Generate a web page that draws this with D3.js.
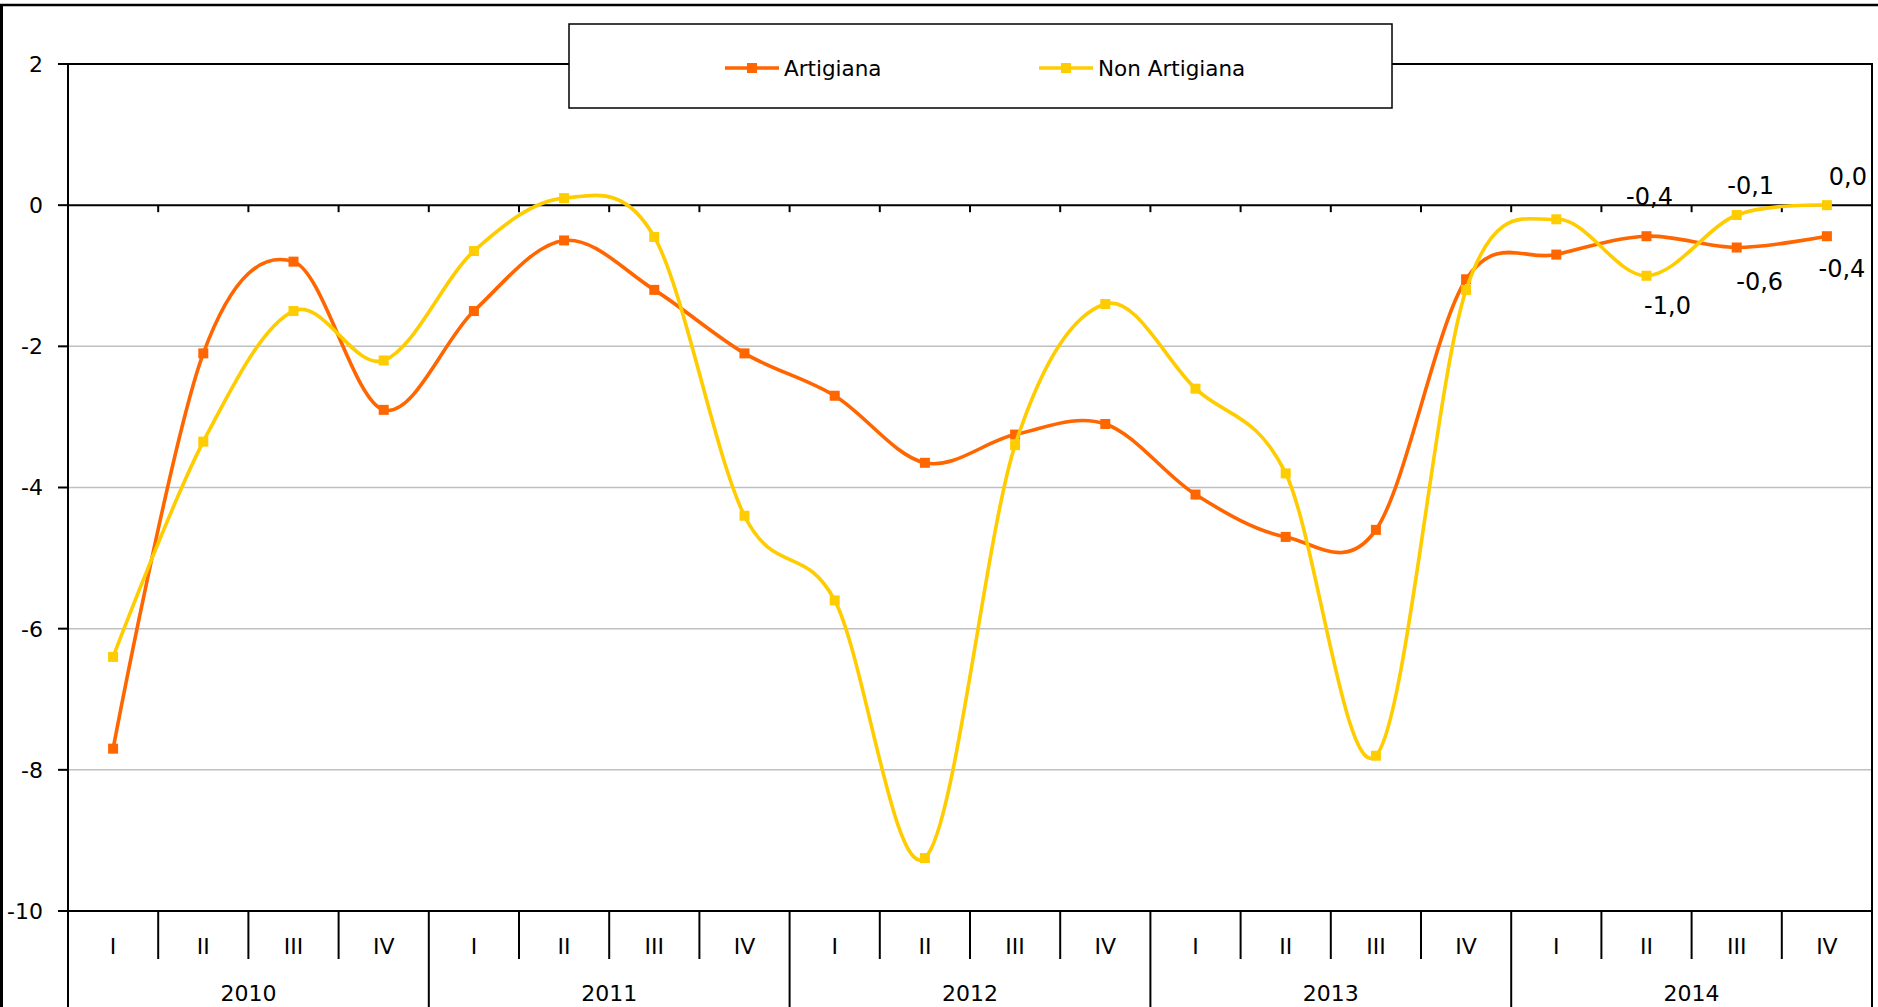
<!DOCTYPE html>
<html>
<head>
<meta charset="utf-8">
<script src="https://cdn.jsdelivr.net/npm/d3@7"></script>
<style>
  body { margin: 0; background: #fff; }
  svg { display: block; }
  text { font-family: "DejaVu Sans", sans-serif; fill: #000; }
</style>
</head>
<body>
<div id="chart"></div>
<script>
// data
var years = ["2010", "2011", "2012", "2013", "2014"];
var quarters = ["I", "II", "III", "IV"];
var seriesNames = ["Artigiana", "Non Artigiana"];
var artigiana = [-7.7, -2.1, -0.8, -2.9, -1.5, -0.5, -1.2, -2.1, -2.7, -3.65, -3.25, -3.1,
                 -4.1, -4.7, -4.6, -1.05, -0.7, -0.44, -0.6, -0.44];
var nonArtigiana = [-6.4, -3.35, -1.5, -2.2, -0.65, 0.1, -0.45, -4.4, -5.6, -9.25, -3.4, -1.4,
                    -2.6, -3.8, -7.8, -1.2, -0.2, -1.0, -0.14, 0.0];
var yTicks = [2, 0, -2, -4, -6, -8, -10];
var labelledIdx = [17, 18, 19];   // 2014 II, III, IV carry value labels

var colors = ["#FF6600", "#FFCC00"];
var W = 1878, H = 1007;
var pLeft = 68, pRight = 1872, pTop = 64, pBottom = 911;

// label nudges [dx, dy] for each labelled point, per series
var labelNudge = [
    [[3, -40], [23, 34], [15, 32]],
    [[21, 30], [14, -30], [21, -29]]
];

var locale = d3.formatLocale({decimal: ",", thousands: ".", grouping: [3], currency: ["", "€"], minus: "-"});
var fmt1 = locale.format(".1f");
var fmt0 = locale.format("d");

var categories = [];
years.forEach(function(yr) {
    quarters.forEach(function(q) { categories.push({year: yr, q: q}); });
});

var svg = d3.select("#chart").append("svg")
    .attr("width", W)
    .attr("height", H);

var x = d3.scaleBand().domain(d3.range(categories.length)).range([pLeft, pRight]).padding(0);
var y = d3.scaleLinear().domain([-10, 2]).range([pBottom, pTop]);
var cx = function(i) { return x(i) + x.bandwidth() / 2; };
var bx = function(i) { return pLeft + i * x.bandwidth(); };

// outer frame (top and left edges visible)
svg.append("line").attr("x1", 0).attr("x2", W).attr("y1", 5).attr("y2", 5)
    .attr("stroke", "#000").attr("stroke-width", 2.5);
svg.append("line").attr("x1", 1.5).attr("x2", 1.5).attr("y1", 5).attr("y2", H)
    .attr("stroke", "#000").attr("stroke-width", 3);

// gridlines
svg.selectAll(".grid")
    .data(yTicks.filter(function(v) { return v !== 2 && v !== 0 && v !== -10; }))
    .enter().append("line")
    .attr("x1", pLeft).attr("x2", pRight)
    .attr("y1", function(d) { return y(d); }).attr("y2", function(d) { return y(d); })
    .attr("stroke", "#C0C0C0").attr("stroke-width", 1.5);

// plot border
svg.append("rect")
    .attr("x", pLeft).attr("y", pTop)
    .attr("width", pRight - pLeft).attr("height", pBottom - pTop)
    .attr("fill", "none").attr("stroke", "#000").attr("stroke-width", 2);

// y axis ticks + labels
svg.selectAll(".ytick")
    .data(yTicks)
    .enter().append("line")
    .attr("x1", pLeft - 10).attr("x2", pLeft)
    .attr("y1", function(d) { return y(d); }).attr("y2", function(d) { return y(d); })
    .attr("stroke", "#000").attr("stroke-width", 2);
svg.selectAll(".ylabel")
    .data(yTicks)
    .enter().append("text")
    .attr("x", 43)
    .attr("y", function(d) { return y(d); })
    .attr("dy", "0.36em")
    .attr("text-anchor", "end")
    .attr("font-size", 22)
    .text(function(d) { return fmt0(d); });

// zero line with downward ticks
svg.append("line").attr("x1", pLeft).attr("x2", pRight).attr("y1", y(0)).attr("y2", y(0))
    .attr("stroke", "#000").attr("stroke-width", 2);
svg.selectAll(".xtick")
    .data(d3.range(1, categories.length + 1))
    .enter().append("line")
    .attr("x1", bx).attr("x2", bx)
    .attr("y1", y(0)).attr("y2", y(0) + 7)
    .attr("stroke", "#000").attr("stroke-width", 2);

// category axis: quarter row and year row
svg.selectAll(".qsep")
    .data(d3.range(0, categories.length + 1))
    .enter().append("line")
    .attr("x1", bx).attr("x2", bx)
    .attr("y1", pBottom)
    .attr("y2", function(i) { return i % 4 === 0 ? H : pBottom + 48; })
    .attr("stroke", "#000").attr("stroke-width", 2);
svg.selectAll(".qlabel")
    .data(categories)
    .enter().append("text")
    .attr("x", function(d, i) { return cx(i); })
    .attr("y", pBottom + 35)
    .attr("dy", "0.36em")
    .attr("text-anchor", "middle")
    .attr("font-size", 22)
    .text(function(d) { return d.q; });
svg.selectAll(".ylab")
    .data(years)
    .enter().append("text")
    .attr("x", function(d, i) { return (bx(i * 4) + bx(i * 4 + 4)) / 2; })
    .attr("y", pBottom + 82)
    .attr("dy", "0.36em")
    .attr("text-anchor", "middle")
    .attr("font-size", 22)
    .text(function(d) { return d; });

// series
var series = [artigiana, nonArtigiana];
var line = d3.line()
    .x(function(d, i) { return cx(i); })
    .y(function(d) { return y(d); })
    .curve(d3.curveCardinal.tension(0));

series.forEach(function(vals, s) {
    var g = svg.append("g");
    g.append("path")
        .datum(vals)
        .attr("d", line)
        .attr("fill", "none")
        .attr("stroke", colors[s])
        .attr("stroke-width", 3.6);
    g.selectAll("rect")
        .data(vals)
        .enter().append("rect")
        .attr("x", function(d, i) { return cx(i) - 5; })
        .attr("y", function(d) { return y(d) - 5; })
        .attr("width", 10).attr("height", 10)
        .attr("fill", colors[s]);
});

// value labels on the last points
series.forEach(function(vals, s) {
    svg.selectAll(".vl" + s)
        .data(labelledIdx)
        .enter().append("text")
        .attr("x", function(i, k) { return cx(i) + labelNudge[s][k][0]; })
        .attr("y", function(i, k) { return y(vals[i]) + labelNudge[s][k][1]; })
        .attr("dy", "0.36em")
        .attr("text-anchor", "middle")
        .attr("font-size", 24)
        .text(function(i) { return fmt1(vals[i]); });
});

// legend
var legend = svg.append("g");
legend.append("rect")
    .attr("x", 569).attr("y", 24).attr("width", 823).attr("height", 84)
    .attr("fill", "#fff").attr("stroke", "#000").attr("stroke-width", 1.5);
var legendX = [725, 1039];
seriesNames.forEach(function(name, s) {
    var lx = legendX[s];
    legend.append("line")
        .attr("x1", lx).attr("x2", lx + 54).attr("y1", 68).attr("y2", 68)
        .attr("stroke", colors[s]).attr("stroke-width", 3.6);
    legend.append("rect")
        .attr("x", lx + 27 - 5).attr("y", 68 - 5).attr("width", 10).attr("height", 10)
        .attr("fill", colors[s]);
    legend.append("text")
        .attr("x", lx + 59).attr("y", 68).attr("dy", "0.36em")
        .attr("font-size", 21.5)
        .text(name);
});
</script>
</body>
</html>
